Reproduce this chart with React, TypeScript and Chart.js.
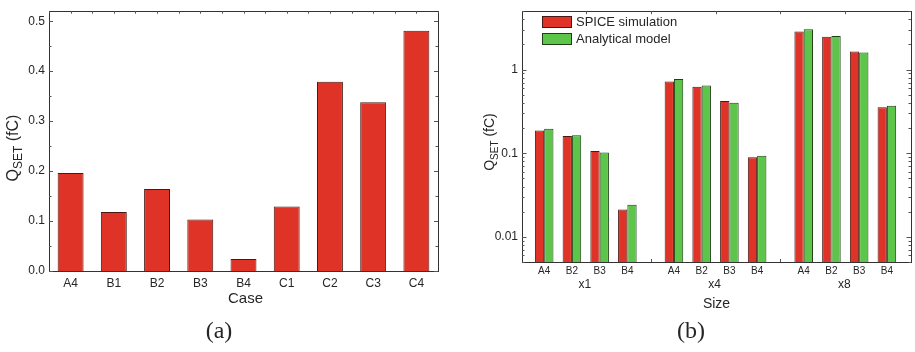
import React, { useEffect, useRef } from 'react';
import { Chart, registerables } from 'chart.js';

Chart.register(...registerables);

// ---------- data (a) ----------
const caseLabels = ['A4', 'B1', 'B2', 'B3', 'B4', 'C1', 'C2', 'C3', 'C4'];
const caseValues = [0.196, 0.118, 0.164, 0.103, 0.024, 0.129, 0.379, 0.338, 0.481];
const leftTickValues = [0, 0.1, 0.2, 0.3, 0.4, 0.5];

// ---------- data (b) ----------
const sizeGroups = ['x1', 'x4', 'x8'];
const sizeCases = ['A4', 'B2', 'B3', 'B4'];
const spiceValues = [0.187, 0.161, 0.106, 0.0212, 0.72, 0.623, 0.422, 0.0896, 2.86, 2.48, 1.65, 0.356];
const analyticalValues = [0.196, 0.164, 0.102, 0.0242, 0.772, 0.646, 0.403, 0.0935, 3.05, 2.52, 1.6, 0.369];
const logTickValues = [0.01, 0.1, 1];
const seriesNames = ['SPICE simulation', 'Analytical model'];

// ---------- style ----------
const SANS = '"Liberation Sans", Arial, Helvetica, sans-serif';
const SERIF = '"Liberation Serif", "Times New Roman", serif';
const RED = '#DE3326';
const RED_EDGE = '#4a1812';
const GREEN = '#5EC54B';
const GREEN_EDGE = '#1f3f16';
const FRAME = '#333333';
const TEXT = '#262626';
const GROUP_GAP = 1.68; // gap between groups, in bar-pair units

const barPositions: number[] = [];
sizeGroups.forEach((_, g) => {
  sizeCases.forEach((__, i) => {
    barPositions.push(g * (sizeCases.length - 1 + GROUP_GAP) + i);
  });
});
const groupCenters = sizeGroups.map((_, g) => g * (sizeCases.length - 1 + GROUP_GAP) + (sizeCases.length - 1) / 2);
const groupBounds = sizeGroups.slice(1).map((_, g) => (g + 1) * (sizeCases.length - 1 + GROUP_GAP) - GROUP_GAP / 2);

function drawQTitle(ctx: CanvasRenderingContext2D, cx: number, cy: number, size: number) {
  ctx.save();
  ctx.translate(cx, cy);
  ctx.rotate(-Math.PI / 2);
  const big = `${size}px ${SANS}`;
  const small = `${Math.round(size * 0.72)}px ${SANS}`;
  ctx.font = big;
  const wQ = ctx.measureText('Q').width;
  ctx.font = small;
  const wS = ctx.measureText('SET').width;
  ctx.font = big;
  const wR = ctx.measureText(' (fC)').width;
  let x = -(wQ + wS + wR) / 2;
  const baseY = size * 0.36;
  ctx.fillStyle = TEXT;
  ctx.textBaseline = 'alphabetic';
  ctx.textAlign = 'left';
  ctx.font = big;
  ctx.fillText('Q', x, baseY);
  x += wQ;
  ctx.font = small;
  ctx.fillText('SET', x, baseY + size * 0.28);
  x += wS;
  ctx.font = big;
  ctx.fillText(' (fC)', x, baseY);
  ctx.restore();
}

function line(ctx: CanvasRenderingContext2D, x1: number, y1: number, x2: number, y2: number) {
  ctx.beginPath();
  ctx.moveTo(x1, y1);
  ctx.lineTo(x2, y2);
  ctx.stroke();
}

const framePluginA = {
  id: 'frameA',
  afterDatasetsDraw(chart: any) {
    const { ctx, chartArea: a, scales } = chart;
    const y = scales.y;
    const x = scales.x;
    ctx.save();
    ctx.strokeStyle = FRAME;
    ctx.lineWidth = 1;
    ctx.strokeRect(Math.round(a.left) + 0.5, Math.round(a.top) + 0.5, Math.round(a.right - a.left), Math.round(a.bottom - a.top));
    ctx.strokeStyle = '#555';
    for (let v = 0; v <= 0.5 + 1e-9; v += 0.05) {
      const py = Math.round(y.getPixelForValue(v)) + 0.5;
      const major = Math.abs(v * 10 - Math.round(v * 10)) < 1e-6;
      const len = major ? 4 : 2.5;
      line(ctx, a.left, py, a.left + len, py);
      line(ctx, a.right, py, a.right - len, py);
    }
    for (let i = 0; i <= caseLabels.length * 2; i++) {
      const px = Math.round(a.left + (i / (caseLabels.length * 2)) * (a.right - a.left)) + 0.5;
      line(ctx, px, a.top, px, a.top + 2.5);
    }
    ctx.restore();
  },
  afterDraw(chart: any) {
    const { ctx, chartArea: a } = chart;
    drawQTitle(ctx, 12, 148, 16);
    ctx.save();
    ctx.fillStyle = TEXT;
    ctx.textAlign = 'center';
    ctx.textBaseline = 'middle';
    ctx.font = `15px ${SANS}`;
    ctx.fillText('Case', (a.left + a.right) / 2 + 2, 299);
    ctx.font = `24px ${SERIF}`;
    ctx.textBaseline = 'alphabetic';
    ctx.fillText('(a)', 219, 338);
    ctx.restore();
  },
};

const framePluginB = {
  id: 'frameB',
  afterDatasetsDraw(chart: any) {
    const { ctx, chartArea: a, scales } = chart;
    const y = scales.y;
    const x = scales.x;
    ctx.save();
    ctx.strokeStyle = FRAME;
    ctx.lineWidth = 1;
    ctx.strokeRect(Math.round(a.left) + 0.5, Math.round(a.top) + 0.5, Math.round(a.right - a.left), Math.round(a.bottom - a.top));
    ctx.strokeStyle = '#555';
    for (let e = -3; e <= 0; e++) {
      for (let k = 1; k <= 9; k++) {
        const v = k * Math.pow(10, e);
        if (v < y.min || v > y.max) continue;
        const py = Math.round(y.getPixelForValue(v)) + 0.5;
        const len = k === 1 ? 4.5 : 2.5;
        line(ctx, a.left, py, a.left + len, py);
        line(ctx, a.right, py, a.right - len, py);
      }
    }
    groupCenters.forEach((c) => {
      const px = Math.round(x.getPixelForValue(c)) + 0.5;
      line(ctx, px, a.top, px, a.top + 3);
    });
    groupBounds.forEach((c) => {
      const px = Math.round(x.getPixelForValue(c)) + 0.5;
      line(ctx, px, a.top, px, a.top + 3);
      line(ctx, px, a.bottom, px, a.bottom - 3);
    });
    ctx.restore();
  },
  afterDraw(chart: any) {
    const { ctx, chartArea: a, scales } = chart;
    const x = scales.x;
    drawQTitle(ctx, 32, 142, 14);
    ctx.save();
    ctx.fillStyle = TEXT;
    ctx.textAlign = 'center';
    ctx.textBaseline = 'middle';
    ctx.font = `12px ${SANS}`;
    sizeGroups.forEach((g, i) => {
      ctx.fillText(g, x.getPixelForValue(groupCenters[i]) - 1, 285);
    });
    ctx.font = `14px ${SANS}`;
    ctx.fillText('Size', (a.left + a.right) / 2, 304);
    ctx.font = `24px ${SERIF}`;
    ctx.textBaseline = 'alphabetic';
    ctx.fillText('(b)', 234, 338);
    // legend
    const fills = [RED, GREEN];
    const edges = [RED_EDGE, GREEN_EDGE];
    const rows = [22, 39];
    seriesNames.forEach((name, i) => {
      ctx.fillStyle = fills[i];
      ctx.fillRect(85.5, rows[i] - 5.5, 29, 11);
      ctx.strokeStyle = edges[i];
      ctx.lineWidth = 1;
      ctx.strokeRect(85.5, rows[i] - 5.5, 29, 11);
      ctx.fillStyle = TEXT;
      ctx.font = `13px ${SANS}`;
      ctx.textAlign = 'left';
      ctx.textBaseline = 'middle';
      ctx.fillText(name, 119, rows[i] + 0.5);
    });
    ctx.restore();
  },
};

function ChartA() {
  const ref = useRef<HTMLCanvasElement>(null);
  useEffect(() => {
    if (!ref.current) return;
    const chart = new Chart(ref.current, {
      type: 'bar',
      data: {
        labels: caseLabels,
        datasets: [
          {
            data: caseValues,
            backgroundColor: RED,
            borderColor: RED_EDGE,
            borderWidth: 1,
            barPercentage: 0.6,
            categoryPercentage: 1,
          },
        ],
      },
      options: {
        responsive: false,
        animation: false,
        events: [],
        layout: { padding: { left: 0, top: 3, right: 19, bottom: 0 } },
        plugins: { legend: { display: false }, tooltip: { enabled: false } },
        scales: {
          x: {
            grid: { display: false, drawTicks: false },
            border: { display: false },
            ticks: { padding: 5, color: TEXT, font: { family: SANS, size: 12 }, maxRotation: 0, autoSkip: false },
            afterFit: (s: any) => {
              s.height = 81;
            },
          },
          y: {
            min: 0,
            max: 0.52,
            grid: { display: false, drawTicks: false },
            border: { display: false },
            afterBuildTicks: (s: any) => {
              s.ticks = leftTickValues.map((v) => ({ value: v }));
            },
            ticks: {
              padding: 4,
              color: TEXT,
              font: { family: SANS, size: 12 },
              callback: (v: any) => Number(v).toFixed(1),
            },
            afterFit: (s: any) => {
              s.width = 49;
            },
          },
        },
      },
      plugins: [framePluginA],
    } as any);
    return () => chart.destroy();
  }, []);
  return <canvas ref={ref} width={457} height={352} style={{ position: 'absolute', left: 0, top: 0 }} />;
}

function ChartB() {
  const ref = useRef<HTMLCanvasElement>(null);
  useEffect(() => {
    if (!ref.current) return;
    const chart = new Chart(ref.current, {
      type: 'bar',
      data: {
        datasets: [
          {
            label: seriesNames[0],
            data: barPositions.map((p, i) => ({ x: p, y: spiceValues[i] })),
            backgroundColor: RED,
            borderColor: RED_EDGE,
            borderWidth: 1,
            barPercentage: 1,
            categoryPercentage: 0.67,
          },
          {
            label: seriesNames[1],
            data: barPositions.map((p, i) => ({ x: p, y: analyticalValues[i] })),
            backgroundColor: GREEN,
            borderColor: GREEN_EDGE,
            borderWidth: 1,
            barPercentage: 1,
            categoryPercentage: 0.67,
          },
        ],
      },
      options: {
        responsive: false,
        animation: false,
        events: [],
        layout: { padding: { left: 0, top: 3, right: 4, bottom: 0 } },
        plugins: { legend: { display: false }, tooltip: { enabled: false } },
        scales: {
          x: {
            type: 'linear',
            min: -0.8,
            max: 13.23,
            offset: false,
            grid: { display: false, drawTicks: false },
            border: { display: false },
            afterBuildTicks: (s: any) => {
              s.ticks = barPositions.map((v) => ({ value: v }));
            },
            ticks: {
              padding: 3,
              color: TEXT,
              font: { family: SANS, size: 10 },
              maxRotation: 0,
              autoSkip: false,
              callback: (_v: any, i: number) => sizeCases[i % sizeCases.length],
            },
            afterFit: (s: any) => {
              s.height = 90;
            },
          },
          y: {
            type: 'logarithmic',
            min: 0.005,
            max: 5,
            grid: { display: false, drawTicks: false },
            border: { display: false },
            afterBuildTicks: (s: any) => {
              s.ticks = logTickValues.map((v) => ({ value: v }));
            },
            ticks: {
              padding: 4,
              color: TEXT,
              font: { family: SANS, size: 12 },
              callback: (v: any) => String(v),
            },
            afterFit: (s: any) => {
              s.width = 65;
            },
          },
        },
      },
      plugins: [framePluginB],
    } as any);
    return () => chart.destroy();
  }, []);
  return <canvas ref={ref} width={458} height={352} style={{ position: 'absolute', left: 457, top: 0 }} />;
}

export default function App() {
  return (
    <div style={{ position: 'fixed', left: 0, top: 0, width: 915, height: 352, background: '#ffffff', overflow: 'hidden' }}>
      <ChartA />
      <ChartB />
    </div>
  );
}
